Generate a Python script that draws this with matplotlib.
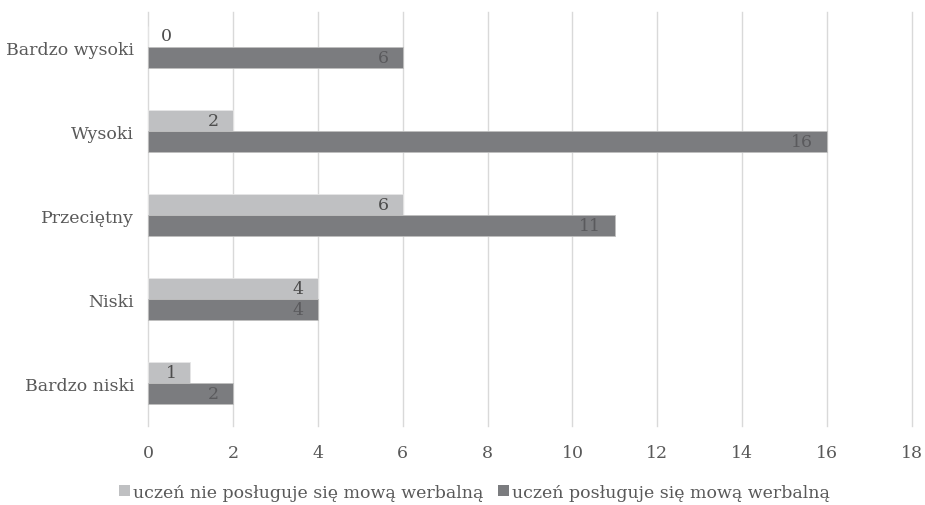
import matplotlib.pyplot as plt
import numpy as np
from matplotlib.patches import Patch

categories = ["Bardzo niski", "Niski", "Przeciętny", "Wysoki", "Bardzo wysoki"]
non_verbal = [1, 4, 6, 2, 0]
verbal = [2, 4, 11, 16, 6]
series_names = ["uczeń nie posługuje się mową werbalną", "uczeń posługuje się mową werbalną"]
x_ticks = [0, 2, 4, 6, 8, 10, 12, 14, 16, 18]

plt.rcParams['font.family'] = ['DejaVu Serif']

light = "#bfc0c2"
dark = "#7b7c7f"
text_col = "#595959"
fs = 12.5

fig = plt.figure(figsize=(9.25, 5.06), dpi=100)
ax = fig.add_axes([0.16, 0.156, 0.826, 0.818])

y = np.arange(len(categories))
h = 0.25
b1 = ax.barh(y + h / 2, non_verbal, height=h, color=light, edgecolor="#e6e6e6", linewidth=0.6, zorder=3)
b2 = ax.barh(y - h / 2, verbal, height=h, color=dark, edgecolor="#bfbfbf", linewidth=0.6, zorder=3)

for bars, vals, col in ((b1, non_verbal, "#4d4d4d"), (b2, verbal, "#5a5a5d")):
    for bar, v in zip(bars, vals):
        cy = bar.get_y() + bar.get_height() / 2
        if v > 0:
            ax.annotate(str(v), (v, cy), xytext=(-10, 0), textcoords="offset points",
                        ha="right", va="center", fontsize=fs, color=col, zorder=4)
        else:
            ax.annotate(str(v), (v, cy), xytext=(9, 1), textcoords="offset points",
                        ha="left", va="center", fontsize=fs, color="#4d4d4d", zorder=4)

ax.set_xlim(0, 18)
ax.set_ylim(-0.51, 4.42)
ax.set_xticks(x_ticks)
ax.set_yticks(y)
ax.set_yticklabels(categories)
ax.tick_params(axis="both", length=0, labelsize=fs, colors=text_col)
ax.tick_params(axis="x", pad=13)
ax.tick_params(axis="y", pad=10)
ax.grid(axis="x", color="#d9d9d9", linewidth=1, zorder=0)
for gl in ax.get_xgridlines():
    gl.set_clip_on(False)
for s in ax.spines.values():
    s.set_visible(False)

handles = [Patch(facecolor=light, edgecolor="none"), Patch(facecolor=dark, edgecolor="none")]
fig.legend(handles, series_names, loc="lower center", bbox_to_anchor=(0.513, -0.022), ncol=2,
           frameon=False, fontsize=fs, labelcolor=text_col, handlelength=0.65, handleheight=0.65,
           handletextpad=0.15, columnspacing=0.85)

fig.savefig("out.png", dpi=100, facecolor="white")
